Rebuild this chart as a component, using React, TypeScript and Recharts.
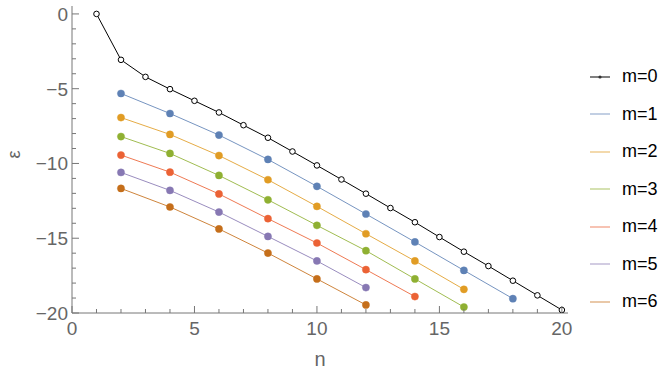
import React from 'react';
import { Line, LineChart, XAxis, YAxis } from 'recharts';

// energy levels eps(n) for each m
const nAll = [1, 2, 3, 4, 5, 6, 7, 8, 9, 10, 11, 12, 13, 14, 15, 16, 17, 18, 19, 20];
const nEven = [2, 4, 6, 8, 10, 12, 14, 16, 18];

const epsM0 = [0, -3.07, -4.21, -5.03, -5.81, -6.59, -7.44, -8.28, -9.2, -10.13, -11.07, -12.02, -12.98, -13.93, -14.92, -15.9, -16.86, -17.84, -18.82, -19.8];
const epsM1 = [-5.32, -6.66, -8.1, -9.73, -11.53, -13.38, -15.25, -17.15, -19.04];
const epsM2 = [-6.93, -8.06, -9.47, -11.09, -12.87, -14.7, -16.52, -18.42];
const epsM3 = [-8.2, -9.33, -10.8, -12.43, -14.14, -15.83, -17.72, -19.6];
const epsM4 = [-9.44, -10.58, -12.04, -13.69, -15.32, -17.1, -18.9];
const epsM5 = [-10.6, -11.8, -13.25, -14.88, -16.52, -18.3];
const epsM6 = [-11.67, -12.91, -14.38, -15.99, -17.72, -19.46];

const seriesNames = ['m=0', 'm=1', 'm=2', 'm=3', 'm=4', 'm=5', 'm=6'];
const colors = ['#000000', '#5E81B5', '#E19C24', '#8FB032', '#EB6235', '#8778B3', '#C56E1A'];

const xTicks = [0, 1, 2, 3, 4, 5, 6, 7, 8, 9, 10, 11, 12, 13, 14, 15, 16, 17, 18, 19, 20];
const yTicks = [0, -1, -2, -3, -4, -5, -6, -7, -8, -9, -10, -11, -12, -13, -14, -15, -16, -17, -18, -19, -20];

const toRows = (ns: number[], eps: number[]) => eps.map((e, i) => ({ n: ns[i], e }));
const series = [
  toRows(nAll, epsM0),
  toRows(nEven, epsM1),
  toRows(nEven, epsM2),
  toRows(nEven, epsM3),
  toRows(nEven, epsM4),
  toRows(nEven, epsM5),
  toRows(nEven, epsM6),
];

const FRAME = '#777';
const LABEL = '#666';
const FONT = '"Liberation Sans", Arial, sans-serif';
const fmt = (v: number) => (v < 0 ? '\u2212' + Math.abs(v) : String(v));

const BottomTick = (props: any) => {
  const { x, y, payload } = props;
  const major = payload.value % 5 === 0;
  return (
    <g>
      <line x1={x} x2={x} y1={y} y2={y - (major ? 7 : 4)} stroke={FRAME} />
      {major && (
        <text x={x} y={y + 22} textAnchor="middle" fill={LABEL} fontSize={19} fontFamily={FONT}>
          {fmt(payload.value)}
        </text>
      )}
    </g>
  );
};

const TopTick = (props: any) => {
  const { x, y, payload } = props;
  const major = payload.value % 5 === 0;
  return <line x1={x} x2={x} y1={y} y2={y + (major ? 7 : 4)} stroke={FRAME} />;
};

const LeftTick = (props: any) => {
  const { x, y, payload } = props;
  const major = payload.value % 5 === 0;
  return (
    <g>
      <line x1={x} x2={x + (major ? 7 : 4)} y1={y} y2={y} stroke={FRAME} />
      {major && (
        <text x={x - 4} y={y + 7} textAnchor="end" fill={LABEL} fontSize={19} fontFamily={FONT}>
          {fmt(payload.value)}
        </text>
      )}
    </g>
  );
};

const RightTick = (props: any) => {
  const { x, y, payload } = props;
  const major = payload.value % 5 === 0;
  return <line x1={x} x2={x - (major ? 7 : 4)} y1={y} y2={y} stroke={FRAME} />;
};

const EpsLabel = (props: any) => {
  const vb = props.viewBox || {};
  const cy = (vb.y ?? 6) + (vb.height ?? 307) / 2 - 5;
  return (
    <text
      x={14}
      y={cy}
      transform={`rotate(-90 14 ${cy})`}
      textAnchor="middle"
      dominantBaseline="central"
      fill={LABEL}
      fontSize={18}
      fontFamily={FONT}
    >
      ε
    </text>
  );
};

const LegendBox = () => (
  <div style={{ position: 'absolute', left: 588, top: 58, fontFamily: FONT }}>
    {seriesNames.map((name, i) => (
      <div key={name} style={{ display: 'flex', alignItems: 'center', height: 37.5 }}>
        <svg width={24} height={10}>
          <line
            x1={2}
            x2={22}
            y1={5}
            y2={5}
            stroke={i === 0 ? '#444' : colors[i]}
            strokeOpacity={i === 0 ? 0.9 : 0.5}
            strokeWidth={1.5}
          />
          {i === 0 && <circle cx={12} cy={5} r={1.6} fill="#333" />}
        </svg>
        <span style={{ marginLeft: 10, fontSize: 18, color: '#000' }}>{name}</span>
      </div>
    ))}
  </div>
);

const App: React.FC = () => {
  return (
    <div style={{ position: 'absolute', left: 0, top: 0, width: 669, height: 374, background: '#fff' }}>
      <LineChart width={669} height={374} margin={{ top: 6, right: 101, left: 0, bottom: 0 }}>
        <XAxis
          dataKey="n"
          type="number"
          domain={[0, 20.25]}
          ticks={xTicks}
          interval={0}
          allowDataOverflow
          height={61}
          tickSize={0}
          tickMargin={0}
          tickLine={false}
          axisLine={{ stroke: FRAME }}
          tick={<BottomTick />}
          label={{ value: 'n', position: 'insideBottom', offset: 8, fill: LABEL, fontSize: 20, fontFamily: FONT }}
        />
        <XAxis
          xAxisId="top"
          orientation="top"
          dataKey="n"
          type="number"
          domain={[0, 20.25]}
          ticks={xTicks}
          interval={0}
          allowDataOverflow
          height={0}
          tickSize={0}
          tickMargin={0}
          tickLine={false}
          axisLine={{ stroke: FRAME }}
          tick={<TopTick />}
        />
        <YAxis
          type="number"
          domain={[-20, 0.53]}
          ticks={yTicks}
          interval={0}
          allowDataOverflow
          width={72}
          tickSize={0}
          tickMargin={0}
          tickLine={false}
          axisLine={{ stroke: FRAME }}
          tick={<LeftTick />}
          label={<EpsLabel />}
        />
        <YAxis
          yAxisId="right"
          orientation="right"
          type="number"
          domain={[-20, 0.53]}
          ticks={yTicks}
          interval={0}
          allowDataOverflow
          width={0}
          tickSize={0}
          tickMargin={0}
          tickLine={false}
          axisLine={{ stroke: FRAME }}
          tick={<RightTick />}
        />
        {series.map((rows, i) => (
          <Line
            key={seriesNames[i]}
            data={rows}
            dataKey="e"
            name={seriesNames[i]}
            type="linear"
            stroke={colors[i]}
            strokeWidth={1}
            strokeOpacity={i === 0 ? 1 : 0.85}
            dot={
              i === 0
                ? { r: 2.8, stroke: '#000', strokeWidth: 1, fill: '#fff' }
                : { r: 3.6, stroke: colors[i], strokeWidth: 0.5, fill: colors[i] }
            }
            activeDot={false}
            isAnimationActive={false}
          />
        ))}
      </LineChart>
      <LegendBox />
    </div>
  );
};

export default App;
